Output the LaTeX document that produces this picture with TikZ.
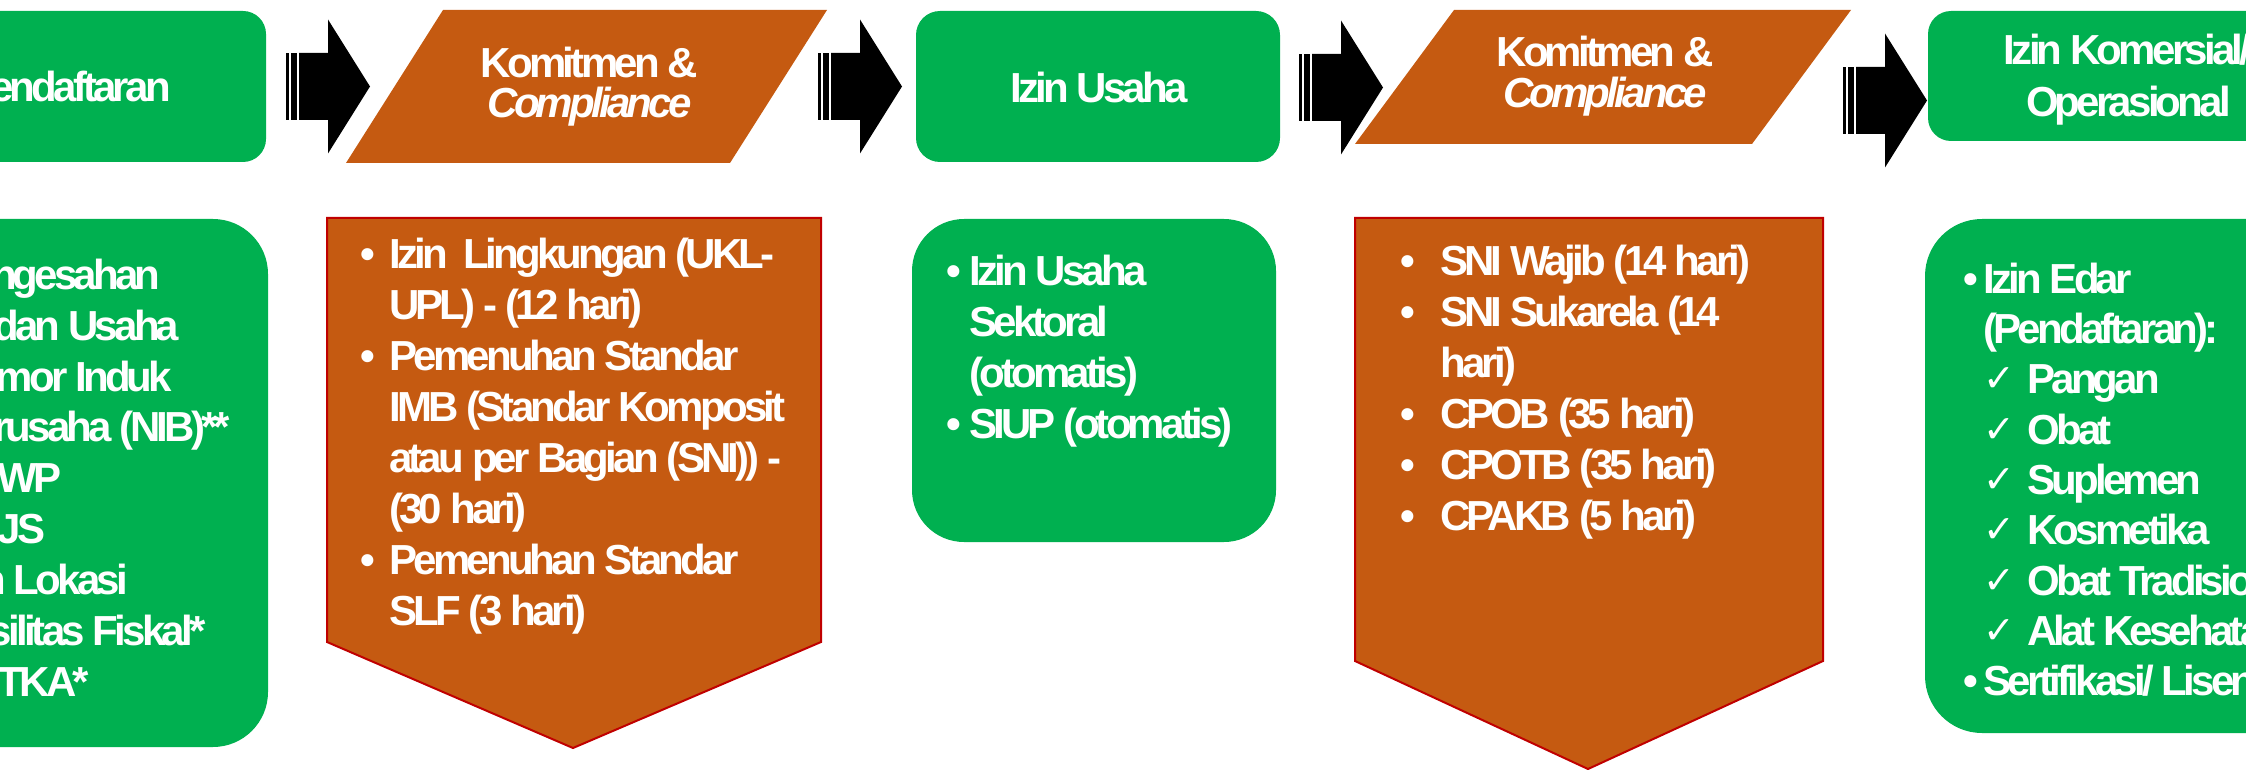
\documentclass[tikz,border=0pt]{standalone}
\usepackage{fontspec}
\setmainfont{Liberation Sans}[LetterSpace=-9]
\newfontfamily\dejavu{DejaVu Sans}
\definecolor{pgreen}{RGB}{0,176,80}
\definecolor{porange}{RGB}{197,90,17}
\definecolor{pred}{RGB}{192,0,0}
\newcommand{\stripedarrow}[2]{%
  \fill[black] ({#1},{#2-33.5}) rectangle ({#1+2.6},{#2+33.5});
  \fill[black] ({#1+5.25},{#2-33.5}) rectangle ({#1+10.5},{#2+33.5});
  \fill[black] ({#1+13.1},{#2-33.5}) -- ({#1+42},{#2-33.5}) -- ({#1+42},{#2-67})
     -- ({#1+84},{#2}) -- ({#1+42},{#2+67}) -- ({#1+42},{#2+33.5}) -- ({#1+13.1},{#2+33.5}) -- cycle;}
\tikzset{
  gbox/.style={fill=pgreen, draw=none, inner sep=0pt, outer sep=0pt, anchor=north west},
  obox/.style={fill=porange, draw=pred, line width=2pt, line join=miter},
  pbox/.style={fill=porange, draw=none},
  txt/.style={text=white, font=\fontsize{42}{51}\selectfont\bfseries, inner sep=0pt, anchor=base west},
  ttl/.style={text=white, font=\fontsize{42}{41}\selectfont\bfseries, inner sep=0pt, anchor=base},
  chk/.style={text=white, font=\fontsize{38}{40}\selectfont\dejavu\bfseries, inner sep=0pt, anchor=base west},
}
\begin{document}
\begin{tikzpicture}[x=1pt,y=-1pt]
\useasboundingbox (0,0) rectangle (2246,770);
\clip (0,0) rectangle (2246,770);
% ---------- top row ----------
\node[gbox, rounded corners=23pt, minimum width=393pt, minimum height=151pt] (b1) at (-127,11) {};
\node[ttl, anchor=base east] (t1) at (171,102) {Pendaftaran};
\stripedarrow{286}{86.5}
\path[pbox] (346,163) -- (443,10) -- (827,10) -- (730,163) -- cycle;
\coordinate (p1) at (586,86);
\node[ttl] (t2a) at (589.5,78) {Komitmen \&};
\node[ttl] (t2b) at (589.5,118) {\itshape Compliance};
\stripedarrow{818}{86.5}
\node[gbox, rounded corners=24pt, minimum width=364pt, minimum height=151pt] (b3) at (916,11) {};
\node[ttl] (t3) at (1099,103) {Izin Usaha};
\stripedarrow{1299}{87.5}
\path[pbox] (1355,144) -- (1454,10) -- (1851,10) -- (1752,144) -- cycle;
\coordinate (p2) at (1603,77);
\node[ttl] (t4a) at (1605,67) {Komitmen \&};
\node[ttl] (t4b) at (1605,108) {\itshape Compliance};
\stripedarrow{1843}{100.5}
\node[gbox, rounded corners=23pt, minimum width=400pt, minimum height=130pt] (b5) at (1928,11) {};
\node[ttl] (t5a) at (2127.5,65) {Izin Komersial/};
\node[ttl] (t5b) at (2128.5,117) {Operasional};
% ---------- bottom row ----------
\node[gbox, rounded corners=55pt, minimum width=395pt, minimum height=528pt] (c1) at (-127,219) {};
\node[txt] (c1a) at (-53,289) {Pengesahan};
\node[txt] (c1b) at (-53,340) {Badan Usaha};
\node[txt] (c1c) at (-53,391) {Nomor Induk};
\node[txt] (c1d) at (-53,441) {Berusaha (NIB)**};
\node[txt] (c1e) at (-53,492) {NPWP};
\node[txt] (c1f) at (-53,543) {BPJS};
\node[txt] (c1g) at (-53,594) {Izin Lokasi};
\node[txt] (c1h) at (-53,645) {Fasilitas Fiskal*};
\node[txt] (c1i) at (-53,696) {RPTKA*};
% pentagon 1
\path[obox] (327,218) -- (821,218) -- (821,642) -- (573,748) -- (327,642) -- cycle;
\node[txt] (c2u1) at (360,268) {•};
\node[txt] (c2a) at (389,268) {Izin\ \ Lingkungan (UKL-};
\node[txt] (c2b) at (389,319) {UPL) - (12 hari)};
\node[txt] (c2u2) at (360,370) {•};
\node[txt] (c2c) at (389,370) {Pemenuhan Standar};
\node[txt] (c2d) at (389,421) {IMB (Standar Komposit};
\node[txt] (c2e) at (389,472) {atau per Bagian (SNI)) -};
\node[txt] (c2f) at (389,523) {(30 hari)};
\node[txt] (c2u3) at (360,574) {•};
\node[txt] (c2g) at (389,574) {Pemenuhan Standar};
\node[txt] (c2h) at (389,625) {SLF (3 hari)};
% box 3
\node[gbox, rounded corners=52pt, minimum width=364pt, minimum height=323pt] (c3) at (912,219) {};
\node[txt] (c3u1) at (946,285) {•};
\node[txt] (c3a) at (969,285) {Izin Usaha};
\node[txt] (c3b) at (969,336) {Sektoral};
\node[txt] (c3c) at (969,387) {(otomatis)};
\node[txt] (c3u2) at (946,438) {•};
\node[txt] (c3d) at (969,438) {SIUP (otomatis)};
% pentagon 2
\path[obox] (1355,218) -- (1823,218) -- (1823,661) -- (1588,769) -- (1355,661) -- cycle;
\node[txt] (c4u1) at (1400,275) {•};
\node[txt] (c4a) at (1440,275) {SNI Wajib (14 hari)};
\node[txt] (c4u2) at (1400,326) {•};
\node[txt] (c4b) at (1440,326) {SNI Sukarela (14};
\node[txt] (c4c) at (1440,377) {hari)};
\node[txt] (c4u3) at (1400,428) {•};
\node[txt] (c4d) at (1440,428) {CPOB (35 hari)};
\node[txt] (c4u4) at (1400,479) {•};
\node[txt] (c4e) at (1440,479) {CPOTB (35 hari)};
\node[txt] (c4u5) at (1400,530) {•};
\node[txt] (c4f) at (1440,530) {CPAKB (5 hari)};
% box 5
\node[gbox, rounded corners=57pt, minimum width=405pt, minimum height=514pt] (c5) at (1925,219) {};
\node[txt] (c5u1) at (1963,293) {•};
\node[txt] (c5a) at (1983,293) {Izin Edar};
\node[txt] (c5b) at (1983,343) {(Pendaftaran):};
\node[chk] (k1) at (1983,391) {✓};
\node[txt] (c5c) at (2027,393) {Pangan};
\node[chk] (k2) at (1983,442) {✓};
\node[txt] (c5d) at (2027,444) {Obat};
\node[chk] (k3) at (1983,492) {✓};
\node[txt] (c5e) at (2027,494) {Suplemen};
\node[chk] (k4) at (1983,542) {✓};
\node[txt] (c5f) at (2027,544) {Kosmetika};
\node[chk] (k5) at (1983,593) {✓};
\node[txt] (c5g) at (2027,595) {Obat Tradisional};
\node[chk] (k6) at (1983,643) {✓};
\node[txt] (c5h) at (2027,645) {Alat Kesehatan};
\node[txt] (c5u2) at (1963,695) {•};
\node[txt] (c5i) at (1983,695) {Sertifikasi/ Lisensi};
\end{tikzpicture}
\end{document}
